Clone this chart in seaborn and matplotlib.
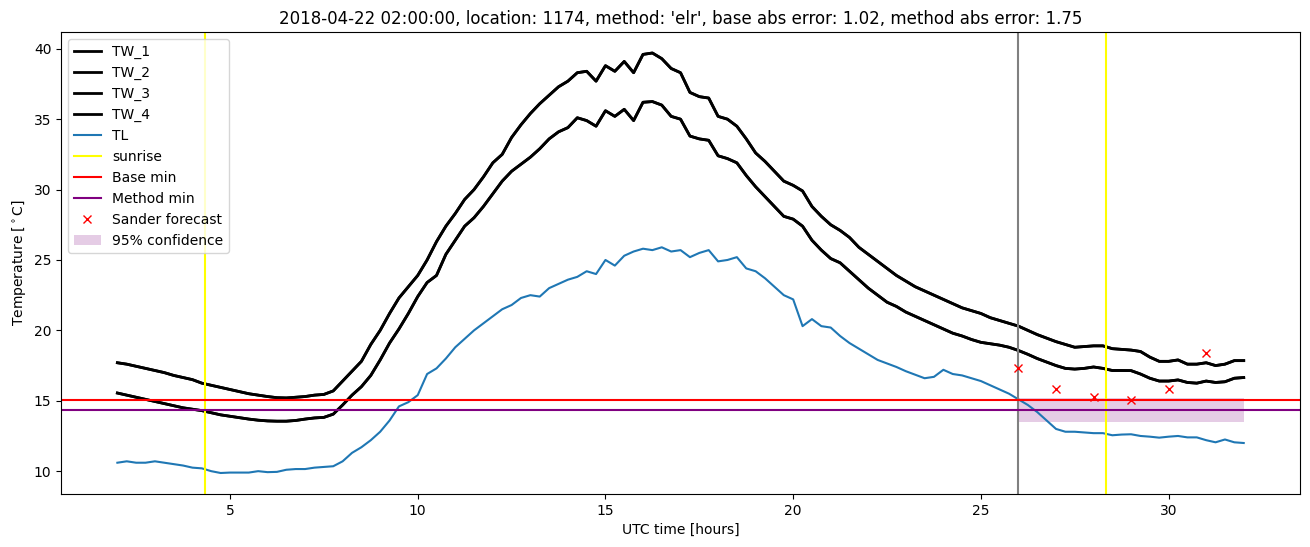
import numpy as np
import pandas as pd
import matplotlib
matplotlib.use("Agg")
import matplotlib.pyplot as plt
import seaborn as sns

# Time axis: every 15 minutes from 02:00 to 32:00 UTC
hours = np.arange(2.0, 32.01, 0.25)

# Upper pair of wall temperatures (TW_1 / TW_2)
tw_upper = [
    17.7, 17.6, 17.45, 17.3, 17.15, 17.0, 16.8, 16.65, 16.5, 16.25,
    16.1, 15.95, 15.8, 15.65, 15.5, 15.4, 15.3, 15.22, 15.2, 15.25,
    15.3, 15.4, 15.45, 15.7, 16.4, 17.1, 17.8, 19.0, 20.0, 21.2,
    22.3, 23.1, 23.9, 25.0, 26.3, 27.4, 28.3, 29.3, 30.0, 30.9,
    31.9, 32.5, 33.7, 34.6, 35.4, 36.1, 36.7, 37.3, 37.7, 38.3,
    38.4, 37.7, 38.8, 38.4, 39.1, 38.3, 39.6, 39.7, 39.3, 38.6,
    38.3, 36.9, 36.6, 36.5, 35.2, 35.0, 34.5, 33.6, 32.6, 32.0,
    31.3, 30.6, 30.3, 29.9, 28.8, 28.1, 27.5, 27.1, 26.6, 25.9,
    25.4, 24.9, 24.4, 23.9, 23.5, 23.1, 22.8, 22.5, 22.2, 21.9,
    21.6, 21.4, 21.2, 20.9, 20.7, 20.5, 20.3, 20.0, 19.7, 19.45,
    19.2, 19.0, 18.8, 18.85, 18.9, 18.9, 18.7, 18.65, 18.6, 18.5,
    18.1, 17.8, 17.8, 17.9, 17.6, 17.6, 17.7, 17.5, 17.6, 17.85,
    17.85,
]

# Lower pair of wall temperatures (TW_3 / TW_4)
tw_lower = [
    15.55, 15.4, 15.25, 15.1, 14.95, 14.8, 14.65, 14.5, 14.4, 14.3,
    14.15, 14.0, 13.9, 13.8, 13.7, 13.62, 13.57, 13.55, 13.55, 13.6,
    13.7, 13.78, 13.82, 14.05, 14.7, 15.4, 16.0, 16.8, 17.9, 19.1,
    20.1, 21.2, 22.4, 23.4, 23.9, 25.4, 26.4, 27.4, 28.0, 28.8,
    29.7, 30.6, 31.3, 31.8, 32.3, 32.9, 33.6, 34.1, 34.4, 35.1,
    34.9, 34.5, 35.6, 35.2, 35.7, 34.9, 36.2, 36.25, 36.0, 35.2,
    35.0, 33.8, 33.6, 33.5, 32.4, 32.2, 31.9, 31.0, 30.2, 29.5,
    28.8, 28.1, 27.9, 27.4, 26.4, 25.7, 25.1, 24.8, 24.2, 23.6,
    23.0, 22.5, 22.0, 21.7, 21.3, 21.0, 20.7, 20.4, 20.1, 19.8,
    19.6, 19.35, 19.15, 19.05, 18.95, 18.8, 18.57, 18.3, 18.0, 17.75,
    17.5, 17.3, 17.25, 17.3, 17.4, 17.3, 17.15, 17.15, 17.14, 16.9,
    16.6, 16.4, 16.4, 16.48, 16.3, 16.25, 16.4, 16.3, 16.35, 16.6,
    16.65,
]

# Air temperature
tl = [
    10.6, 10.7, 10.6, 10.6, 10.7, 10.6, 10.5, 10.4, 10.25, 10.2,
    10.0, 9.87, 9.9, 9.9, 9.9, 10.0, 9.93, 9.95, 10.1, 10.15,
    10.15, 10.25, 10.3, 10.35, 10.7, 11.3, 11.7, 12.2, 12.8, 13.6,
    14.6, 14.9, 15.4, 16.9, 17.3, 18.0, 18.8, 19.4, 20.0, 20.5,
    21.0, 21.5, 21.8, 22.3, 22.5, 22.4, 23.0, 23.3, 23.6, 23.8,
    24.2, 24.0, 25.0, 24.6, 25.3, 25.6, 25.8, 25.7, 25.9, 25.6,
    25.7, 25.2, 25.5, 25.7, 24.9, 25.0, 25.2, 24.4, 24.2, 23.7,
    23.1, 22.5, 22.2, 20.3, 20.8, 20.3, 20.2, 19.6, 19.1, 18.7,
    18.3, 17.9, 17.65, 17.4, 17.1, 16.85, 16.6, 16.7, 17.2, 16.9,
    16.8, 16.6, 16.4, 16.1, 15.8, 15.5, 15.1, 14.7, 14.2, 13.6,
    13.0, 12.8, 12.8, 12.75, 12.7, 12.7, 12.55, 12.6, 12.62, 12.5,
    12.45, 12.38, 12.45, 12.5, 12.4, 12.4, 12.2, 12.05, 12.25, 12.05,
    12.0,
]

sunrise_hours = [4.34, 28.33]
forecast_start = 26.0
base_min = 15.07
method_min = 14.36

forecast_hours = [26, 27, 28, 29, 30, 31]
sander_forecast = [17.33, 15.83, 15.24, 15.07, 15.83, 18.41]

conf_hours = [26, 32]
conf_low = 13.52
conf_high = 15.19

df = pd.DataFrame({
    "hours": hours,
    "TW_1": tw_upper,
    "TW_2": tw_upper,
    "TW_3": tw_lower,
    "TW_4": tw_lower,
    "TL": tl,
})

fig, ax = plt.subplots(figsize=(13.1, 5.47), dpi=100)
fig.subplots_adjust(left=0.0466, right=0.9924, top=0.9415, bottom=0.0969)

for col in ["TW_1", "TW_2", "TW_3", "TW_4"]:
    sns.lineplot(data=df, x="hours", y=col, color="black", lw=2, label=col, ax=ax)
sns.lineplot(data=df, x="hours", y="TL", color="#1f77b4", lw=1.5, label="TL", ax=ax)

for i, h in enumerate(sunrise_hours):
    ax.axvline(h, color="yellow", lw=1.5, label="sunrise" if i == 0 else "_nolegend_")
ax.axvline(forecast_start, color="gray", lw=1.5)

ax.axhline(base_min, color="red", lw=1.5, label="Base min")
ax.axhline(method_min, color="purple", lw=1.5, label="Method min")

ax.plot(forecast_hours, sander_forecast, "x", color="red", label="Sander forecast")
ax.fill_between(conf_hours, conf_low, conf_high, color="purple", alpha=0.2,
                lw=0, label="95% confidence")

ax.set_title("2018-04-22 02:00:00, location: 1174, method: 'elr', "
             "base abs error: 1.02, method abs error: 1.75")
ax.set_xlabel("UTC time [hours]")
ax.set_ylabel(r"Temperature [$^\circ$C]")
ax.legend(loc="upper left")

fig.savefig("out.png", dpi=100)
